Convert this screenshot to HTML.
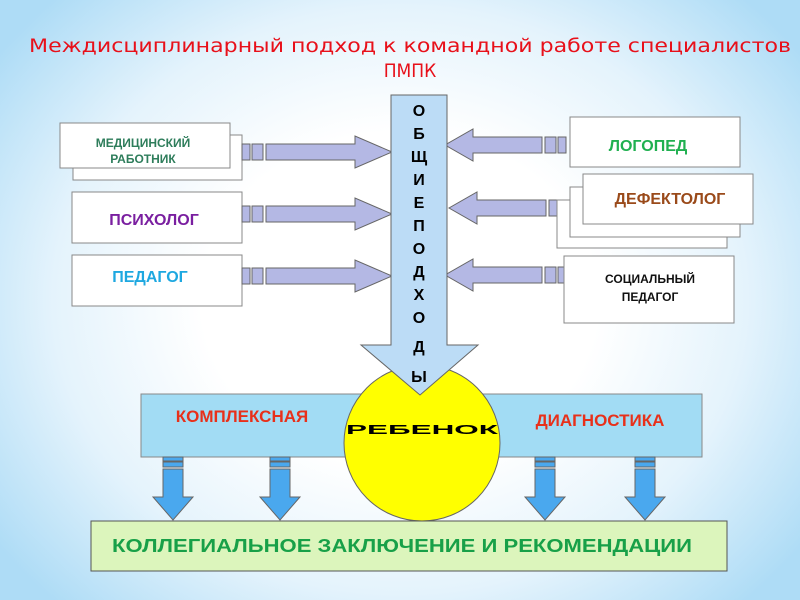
<!DOCTYPE html>
<html><head><meta charset="utf-8"><style>
html,body{margin:0;padding:0;width:800px;height:600px;overflow:hidden}
body{background:radial-gradient(ellipse 62% 70% at 50% 50%,#ffffff 40%,#e4f3fc 70%,#aedcf6 100%)}
svg{position:absolute;left:0;top:0}
text{font-family:"Liberation Sans","DejaVu Sans",sans-serif;font-weight:bold}
</style></head><body>
<svg width="800" height="600" viewBox="0 0 800 600">
<defs>
<g id="lsq"><rect x="0" y="-8" width="8" height="16" fill="#b4b8e4" stroke="#666"/><rect x="10" y="-8" width="11" height="16" fill="#b4b8e4" stroke="#666"/></g>
</defs>
<text x="410" y="52" font-size="19" fill="#e8101a" text-anchor="middle" style="font-family:'Liberation Sans Narrow','DejaVu Sans Condensed',sans-serif;font-weight:normal" textLength="762" lengthAdjust="spacingAndGlyphs">Междисциплинарный подход к командной работе специалистов</text>
<text x="410" y="77" font-size="19" fill="#e8101a" text-anchor="middle" style="font-family:'Liberation Sans Narrow','DejaVu Sans Condensed',sans-serif;font-weight:normal">ПМПК</text>

<!-- left boxes -->
<rect x="73" y="135" width="169" height="45" fill="#fff" stroke="#888"/>
<rect x="60" y="123" width="170" height="45" fill="#fff" stroke="#888"/>
<text x="143" y="147" font-size="12" fill="#2e7d5b" text-anchor="middle">МЕДИЦИНСКИЙ</text>
<text x="143" y="163" font-size="12" fill="#2e7d5b" text-anchor="middle">РАБОТНИК</text>
<rect x="72" y="192" width="170" height="51" fill="#fff" stroke="#888"/>
<text x="154" y="225" font-size="16" fill="#7a1fa0" text-anchor="middle">ПСИХОЛОГ</text>
<rect x="72" y="255" width="170" height="51" fill="#fff" stroke="#888"/>
<text x="150" y="282" font-size="16" fill="#1ea8e0" text-anchor="middle">ПЕДАГОГ</text>

<!-- left arrows -->
<g transform="translate(242,152)"><use href="#lsq"/><path d="M24,-8 H113 V-16 L150,0 L113,16 V8 H24 Z" fill="#b4b8e4" stroke="#666"/></g>
<g transform="translate(242,214)"><use href="#lsq"/><path d="M24,-8 H113 V-16 L150,0 L113,16 V8 H24 Z" fill="#b4b8e4" stroke="#666"/></g>
<g transform="translate(242,276)"><use href="#lsq"/><path d="M24,-8 H113 V-16 L150,0 L113,16 V8 H24 Z" fill="#b4b8e4" stroke="#666"/></g>

<!-- right arrows -->
<g transform="translate(566,145) scale(-1,1)"><use href="#lsq"/><path d="M24,-8 H93 V-16 L121,0 L93,16 V8 H24 Z" fill="#b4b8e4" stroke="#666"/></g>
<g transform="translate(570,208) scale(-1,1)"><use href="#lsq"/><path d="M24,-8 H93 V-16 L121,0 L93,16 V8 H24 Z" fill="#b4b8e4" stroke="#666"/></g>
<g transform="translate(566,275) scale(-1,1)"><use href="#lsq"/><path d="M24,-8 H93 V-16 L121,0 L93,16 V8 H24 Z" fill="#b4b8e4" stroke="#666"/></g>

<!-- right boxes -->
<rect x="570" y="117" width="170" height="50" fill="#fff" stroke="#888"/>
<text x="648" y="151" font-size="16" fill="#20b050" text-anchor="middle">ЛОГОПЕД</text>
<rect x="557" y="200" width="170" height="48" fill="#fff" stroke="#888"/>
<rect x="570" y="187" width="170" height="50" fill="#fff" stroke="#888"/>
<rect x="583" y="174" width="170" height="50" fill="#fff" stroke="#888"/>
<text x="670" y="204" font-size="16" fill="#9a4a1a" text-anchor="middle">ДЕФЕКТОЛОГ</text>
<rect x="564" y="256" width="170" height="67" fill="#fff" stroke="#888"/>
<text x="650" y="283" font-size="12" fill="#111" text-anchor="middle">СОЦИАЛЬНЫЙ</text>
<text x="650" y="301" font-size="12" fill="#111" text-anchor="middle">ПЕДАГОГ</text>

<!-- band -->
<rect x="141" y="394" width="561" height="63" fill="#a2dcf4" stroke="#888"/>
<text x="242" y="422" font-size="17" fill="#e8301a" text-anchor="middle">КОМПЛЕКСНАЯ</text>
<text x="600" y="426" font-size="17" fill="#e8301a" text-anchor="middle">ДИАГНОСТИКА</text>

<!-- circle -->
<circle cx="422" cy="443" r="78" fill="#ffff00" stroke="#666"/>
<text x="422" y="434" font-size="13" fill="#000" text-anchor="middle" font-family="DejaVu Sans" textLength="152" lengthAdjust="spacingAndGlyphs" style="font-weight:900">РЕБЕНОК</text>

<!-- vertical arrow -->
<path d="M391,95 H447 V345 H478 L420,395 L361,345 H391 Z" fill="#bcdcf6" stroke="#666"/>
<g font-size="16" fill="#000" text-anchor="middle">
<text x="419" y="116">О</text><text x="419" y="139">Б</text><text x="419" y="162">Щ</text><text x="419" y="185">И</text><text x="419" y="208">Е</text><text x="419" y="231">П</text><text x="419" y="254">О</text><text x="419" y="277">Д</text><text x="419" y="300">Х</text><text x="419" y="323">О</text><text x="419" y="352">Д</text><text x="419" y="382">Ы</text>
</g>

<!-- down arrows -->
<g fill="#4aa8ee" stroke="#666">
<g transform="translate(173,457)"><rect x="-10" y="0" width="20" height="4"/><rect x="-10" y="5" width="20" height="5"/><path d="M-10,12 H10 V40 H20 L0,63 L-20,40 H-10 Z"/></g>
<g transform="translate(280,457)"><rect x="-10" y="0" width="20" height="4"/><rect x="-10" y="5" width="20" height="5"/><path d="M-10,12 H10 V40 H20 L0,63 L-20,40 H-10 Z"/></g>
<g transform="translate(545,457)"><rect x="-10" y="0" width="20" height="4"/><rect x="-10" y="5" width="20" height="5"/><path d="M-10,12 H10 V40 H20 L0,63 L-20,40 H-10 Z"/></g>
<g transform="translate(645,457)"><rect x="-10" y="0" width="20" height="4"/><rect x="-10" y="5" width="20" height="5"/><path d="M-10,12 H10 V40 H20 L0,63 L-20,40 H-10 Z"/></g>
</g>

<!-- bottom box -->
<rect x="91" y="521" width="636" height="50" fill="#dcf5bc" stroke="#555"/>
<text x="402" y="552" font-size="18" fill="#18a048" text-anchor="middle" textLength="580" lengthAdjust="spacingAndGlyphs">КОЛЛЕГИАЛЬНОЕ ЗАКЛЮЧЕНИЕ И РЕКОМЕНДАЦИИ</text>
</svg>
</body></html>
